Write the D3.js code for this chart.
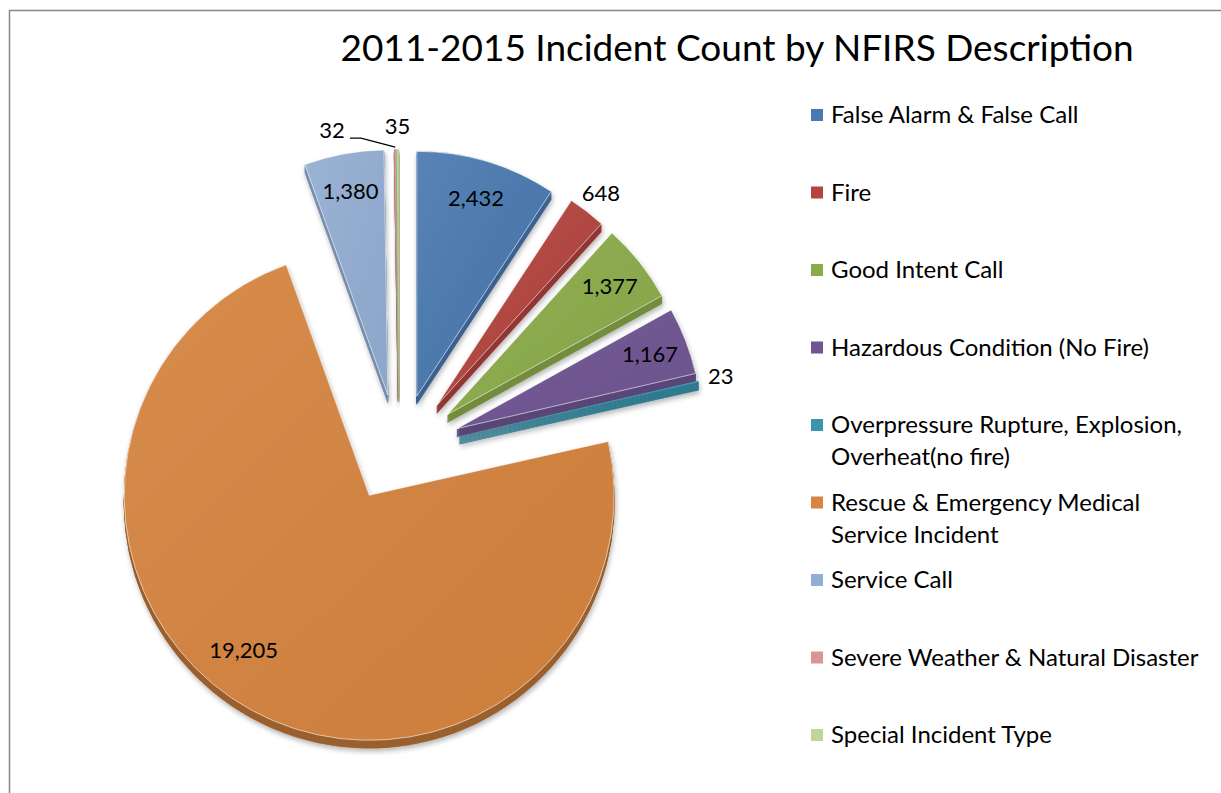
<!DOCTYPE html>
<html lang="en">
<head>
  <meta charset="UTF-8">
  <title>2011-2015 Incident Count by NFIRS Description</title>
  <script src="https://d3js.org/d3.v7.min.js"></script>
  <style>
    body { margin: 0; background: #fff; overflow: hidden; }
    svg { display: block; }
    text { font-family: Lato, "Open Sans", sans-serif; fill: #000; }
  </style>
</head>
<body>
<svg width="1221" height="793"></svg>
<script>
// data
const categories = [
  "False Alarm & False Call",
  "Fire",
  "Good Intent Call",
  "Hazardous Condition (No Fire)",
  "Overpressure Rupture, Explosion, Overheat(no fire)",
  "Rescue & Emergency Medical Service Incident",
  "Service Call",
  "Severe Weather & Natural Disaster",
  "Special Incident Type"
];
const counts = [2432, 648, 1377, 1167, 23, 19205, 1380, 32, 35];
const colors = ["#4a79b0", "#b4443f", "#8cac4a", "#6f5592", "#3a95ad",
                "#d6843f", "#93aed3", "#d99594", "#bfd59a"];
// legend text with Excel's line breaks
const legendLines = [
  ["False Alarm & False Call"],
  ["Fire"],
  ["Good Intent Call"],
  ["Hazardous Condition (No Fire)"],
  ["Overpressure Rupture, Explosion,", "Overheat(no fire)"],
  ["Rescue & Emergency Medical", "Service Incident"],
  ["Service Call"],
  ["Severe Weather & Natural Disaster"],
  ["Special Incident Type"]
];

const svg = d3.select("svg");
const fmt = d3.format(",");

// chart frame
svg.append("rect")
  .attr("x", 9.5).attr("y", 10.5)
  .attr("width", 1240).attr("height", 800)
  .attr("fill", "none").attr("stroke", "#888").attr("stroke-width", 1.5);

svg.append("text")
  .attr("x", 737).attr("y", 61)
  .attr("text-anchor", "middle")
  .style("font-size", "37px")
  .text("2011-2015 Incident Count by NFIRS Description");

// pie geometry
const cx = 399, cy = 448;
const R = 245;
const explode = 62;   // how far slices are pulled out
const tilt = 0.87;    // vertical squash of the pull direction
const depth = 8;      // 3d thickness

const total = d3.sum(counts);
const pie = d3.pie().sort(null).value(d => d);
const arcs = pie(counts).map((a, i) => {
  const mid = (a.startAngle + a.endAngle) / 2;
  a.i = i;
  a.mid = mid;
  a.ox = cx + explode * Math.sin(mid);
  a.oy = cy - explode * tilt * Math.cos(mid);
  return a;
});
const arc = d3.arc().innerRadius(0).outerRadius(R);

const defs = svg.append("defs");
const shadow = defs.append("filter").attr("id", "shadow")
  .attr("x", "-20%").attr("y", "-20%").attr("width", "140%").attr("height", "140%");
shadow.append("feDropShadow")
  .attr("dx", 1).attr("dy", 3).attr("stdDeviation", 2.5)
  .attr("flood-color", "#000").attr("flood-opacity", 0.28);

// soft light on the top faces
const shine = defs.append("linearGradient").attr("id", "shine")
  .attr("x1", 0).attr("y1", 0).attr("x2", 1).attr("y2", 1);
shine.append("stop").attr("offset", "0%").attr("stop-color", "#fff").attr("stop-opacity", 0.08);
shine.append("stop").attr("offset", "100%").attr("stop-color", "#000").attr("stop-opacity", 0.04);

// small slices at the top first, the big one last
const drawOrder = [7, 8, 6, 0, 1, 2, 3, 4, 5];
const slices = svg.append("g").attr("class", "slices")
  .selectAll("g")
  .data(drawOrder.map(i => arcs[i]))
  .join("g")
  .attr("transform", d => `translate(${d.ox},${d.oy})`)
  .attr("filter", "url(#shadow)");

// extruded side
slices.each(function(d) {
  const g = d3.select(this);
  const side = d3.color(colors[d.i]).darker(d.i === 5 ? 0.9 : 0.55);
  for (let k = depth; k >= 1; k--) {
    g.append("path")
      .attr("d", arc(d))
      .attr("transform", `translate(0,${k})`)
      .attr("fill", side)
      .attr("stroke", side).attr("stroke-width", 0.6);
  }
});

// top face
const wide = d => d.endAngle - d.startAngle > 0.03;
slices.append("path")
  .attr("d", d => arc(d))
  .attr("fill", d => colors[d.i])
  .attr("stroke", d => wide(d) ? "rgba(255,255,255,0.6)" : "none")
  .attr("stroke-width", 1)
  .attr("stroke-linejoin", "round");
slices.filter(wide).append("path")
  .attr("d", d => arc(d))
  .attr("fill", "url(#shine)");

// data labels
const inR = 207, outR = 268;
const labelShift = [null, null, null, null, null, { dx: -26, dy: -26 }, null, { dx: -63, dy: 4 }, null];
const labels = svg.append("g").attr("class", "labels");
arcs.forEach(d => {
  const small = d.value / total < 0.03;
  const r = small ? outR : inR;
  let x = d.ox + r * Math.sin(d.mid);
  let y = d.oy - r * Math.cos(d.mid);
  const sh = labelShift[d.i];
  if (sh) {
    x += sh.dx; y += sh.dy;
    if (small) {
      // leader line back to the slice rim
      const ex = d.ox + (R + 2) * Math.sin(d.mid);
      const ey = d.oy - (R + 2) * Math.cos(d.mid);
      labels.append("polyline")
        .attr("points", [[x + 18, y + 8], [x + 29, y + 8], [ex, ey]].map(p => p.join(",")).join(" "))
        .attr("fill", "none").attr("stroke", "#000").attr("stroke-width", 1.2);
    }
  }
  labels.append("text")
    .attr("x", x).attr("y", y)
    .attr("dy", "0.35em")
    .attr("text-anchor", "middle")
    .style("font-size", "22px")
    .text(fmt(d.value));
});

// legend
const legend = svg.append("g").attr("class", "legend")
  .selectAll("g")
  .data(legendLines)
  .join("g")
  .attr("transform", (d, i) => `translate(811,${115 + i * 77.5})`);

legend.append("rect")
  .attr("x", 0).attr("y", -6)
  .attr("width", 12).attr("height", 12)
  .attr("fill", (d, i) => colors[i]);

legend.append("text")
  .style("font-size", "24px")
  .selectAll("tspan")
  .data(d => d)
  .join("tspan")
  .attr("x", 20)
  .attr("y", (d, j) => j * 32)
  .attr("dy", "0.35em")
  .text(d => d);
</script>
</body>
</html>
